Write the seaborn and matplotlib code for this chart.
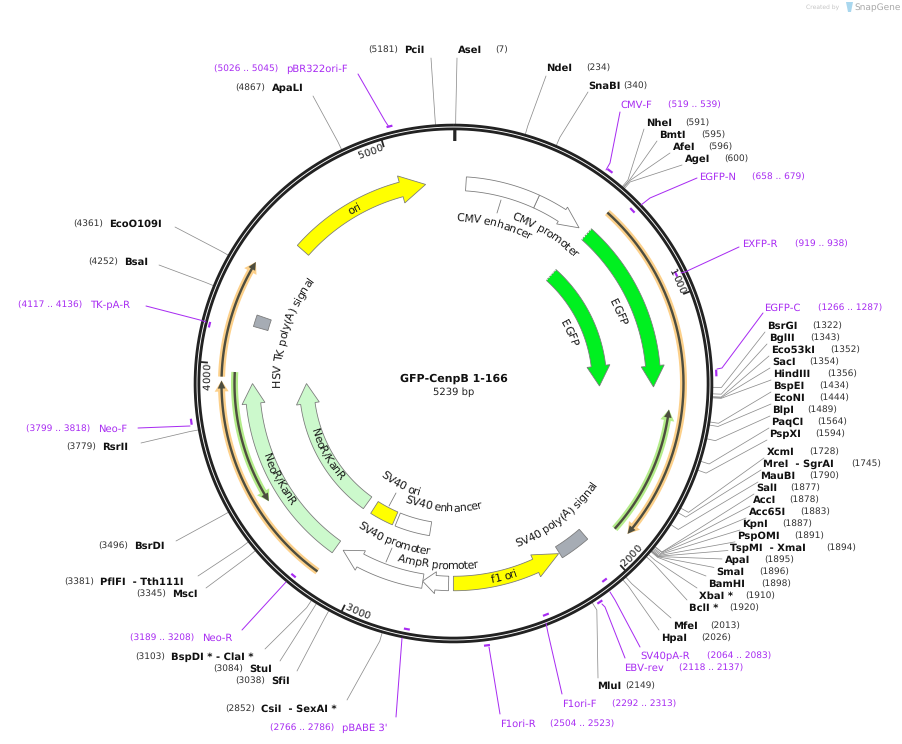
import numpy as np
import pandas as pd
import matplotlib

matplotlib.use("Agg")
import matplotlib.pyplot as plt
import seaborn as sns
from matplotlib.font_manager import FontProperties
from matplotlib.patches import Polygon
from matplotlib.textpath import text_to_path

PLASMID_NAME = "GFP-CenpB 1-166"
PLASMID_BP = 5239
TICK_SITES = [1000, 2000, 3000, 4000, 5000]

ENZYME_NAMES = [
    "AseI", "NdeI", "SnaBI", "NheI", "BmtI", "AfeI", "AgeI", "BsrGI", "BglII", "Eco53kI",
    "SacI", "HindIII", "BspEI", "EcoNI", "BlpI", "PaqCI", "PspXI", "XcmI", "MreI  - SgrAI",
    "MauBI", "SalI", "AccI", "Acc65I", "KpnI", "PspOMI", "TspMI  - XmaI", "ApaI", "SmaI",
    "BamHI", "XbaI *", "BclI *", "MfeI", "HpaI", "MluI", "PciI", "ApaLI", "EcoO109I", "BsaI",
    "RsrII", "BsrDI", "PflFI  - Tth111I", "MscI", "BspDI * - ClaI *", "StuI", "SfiI",
    "CsiI  - SexAI *",
]
ENZYME_SITES = [
    7, 234, 340, 591, 595, 596, 600, 1322, 1343, 1352,
    1354, 1356, 1434, 1444, 1489, 1564, 1594, 1728, 1745,
    1790, 1877, 1878, 1883, 1887, 1891, 1894, 1895, 1896,
    1898, 1910, 1920, 2013, 2026, 2149, 5181, 4867, 4361, 4252,
    3779, 3496, 3381, 3345, 3103, 3084, 3038,
    2852,
]

PRIMER_NAMES = ["pBR322ori-F", "CMV-F", "EGFP-N", "EXFP-R", "EGFP-C", "SV40pA-R", "EBV-rev",
                "F1ori-F", "F1ori-R", "pBABE 3'", "Neo-R", "Neo-F", "TK-pA-R"]
PRIMER_STARTS = [5026, 519, 658, 919, 1266, 2064, 2118, 2292, 2504, 2766, 3189, 3799, 4117]
PRIMER_ENDS = [5045, 539, 679, 938, 1287, 2083, 2137, 2313, 2523, 2786, 3208, 3818, 4136]

# name, start, end (direction follows start -> end)
ARROW_NAMES = ["ori", "CMV promoter", "EGFP", "EGFP", "f1 ori", "AmpR promoter", "SV40 promoter",
               "NeoR/KanR", "NeoR/KanR"]
ARROW_STARTS = [4533, 357, 607, 611, 2620, 2640, 2748, 3138, 3140]
ARROW_ENDS = [5123, 566, 1324, 1324, 2158, 2749, 3107, 3929, 3929]
BOX_NAMES = ["CMV enhancer", "SV40 poly(A) signal", "HSV TK poly(A) signal", "SV40 ori", "SV40 enhancer"]
BOX_STARTS = [52, 2026, 4161, 2960, 2750]
BOX_ENDS = [357, 2154, 4209, 3093, 2944]
THIN_STARTS = [611, 1921, 3954, 3142, 3973]
THIN_ENDS = [1904, 1410, 4389, 3940, 3456]

# layout, all in image pixels
CX, CY, RING_R = 453.5, 383.5, 256.5
ELBOW_R = 268
PX = 0.72
GREY = "#8c8c8c"
PURPLE = "#a82cf2"
SITE_GREY = "#333333"

ENZYME_X = [458, 547, 589, 647, 660, 673, 685, 768, 770, 772,
            773, 774, 774, 774, 773, 772, 770, 767, 764,
            761, 757, 753, 749, 743, 738, 731, 725, 717,
            709, 700, 690, 674, 662, 598, 405, 272, 110, 125,
            103, 135, 101, 173, 172, 250, 272,
            262]
ENZYME_Y = [50, 68, 86, 123, 135, 147, 159, 326, 338, 350,
            362, 374, 386, 398, 410, 422, 434, 452, 464,
            476, 488, 500, 512, 524, 536, 548, 560, 572,
            584, 596, 608, 626, 638, 686, 50, 88, 224, 262,
            447, 546, 582, 594, 657, 669, 681,
            709]
SITE_X = [495, 586, 623, 685, 701, 708, 724, 812, 810, 830,
          809, 827, 819, 819, 807, 817, 815, 809, 851,
          809, 790, 789, 800, 782, 794, 826, 764, 759,
          761, 745, 729, 710, 701, 625, 368, 235, 73, 88,
          66, 98, 64, 136, 135, 213, 235,
          225]
# labels whose leader does not end at the left of the name
LEADER_ENDS = {
    "AseI": (457, 58), "NdeI": (546, 76), "SnaBI": (588, 92), "MluI": (598, 678),
    "PciI": (431, 58), "ApaLI": (313, 96), "EcoO109I": (175, 227), "BsaI": (159, 265),
    "RsrII": (141, 443), "BsrDI": (176, 541), "PflFI  - Tth111I": (198, 576), "MscI": (206, 588),
    "BspDI * - ClaI *": (265, 649), "StuI": (280, 661), "SfiI": (297, 671),
    "CsiI  - SexAI *": (347, 700),
}

PRIMER_R = [265, 264, 249, 248, 263, 248, 263, 249, 264, 250, 250, 265, 251]
PRIMER_X = [287, 621, 700, 743, 765, 641, 625, 563, 501, 343, 203, 99, 91]
PRIMER_Y = [69, 105, 177, 244, 308, 656, 668, 704, 724, 728, 638, 429, 305]
PRIMER_SITE_X = [214, 668, 752, 795, 818, 707, 679, 612, 550, 270, 130, 26, 18]
PRIMER_LEADERS = [
    [(358, 74), (385, 121), (389, 127)],
    [(620, 112), (610, 163), (606, 170)],
    [(697, 178), (650, 198), (641, 205)],
    [(739, 247), (685, 272), (681, 273)],
    [(763, 313), (722, 368), (717, 369)],
    [(640, 647), (615, 600), (610, 592)],
    [(625, 658), (605, 607), (602, 604)],
    [(562, 694), (548, 633), (546, 623)],
    [(500, 714), (489, 647)],
    [(396, 717), (402, 638)],
    [(242, 630), (286, 582)],
    [(138, 428), (190, 426)],
    [(146, 306), (200, 320), (206, 322)],
]

# (text, angle in degrees, radius of the text centre, reads clockwise)
CURVED_LABELS = [
    ("ori", 330.5, 201, True), ("CMV enhancer", 14.3, 166, True), ("CMV promoter", 31.5, 178, True),
    ("EGFP", 66.7, 180, True), ("EGFP", 66.3, 127, True), ("HSV TK poly(A) signal", 287.7, 177, True),
    ("NeoR/KanR", 241.2, 200, False), ("NeoR/KanR", 240.8, 146, False), ("SV40 ori", 207.7, 114, False),
    ("SV40 enhancer", 184.9, 124, False), ("SV40 promoter", 201, 169, False),
    ("AmpR promoter", 185, 182, False), ("f1 ori", 165.2, 199, False),
    ("SV40 poly(A) signal", 141.8, 172, False),
]


def to_deg(bp):
    return 360.0 * bp / PLASMID_BP


def polar(deg, r):
    t = np.radians(deg)
    return CX + r * np.sin(t), CY - r * np.cos(t)


def arc_xy(d0, d1, r, n=80):
    return polar(np.linspace(d0, d1, n), r)


def draw_arc(ax, d0, d1, r, color, px_width):
    x, y = arc_xy(d0, d1, r, 240)
    frame = pd.DataFrame({"x": x, "y": y})
    sns.lineplot(data=frame, x="x", y="y", sort=False, estimator=None, color=color,
                 linewidth=px_width * PX, ax=ax, solid_capstyle="butt")


def arrow_poly(d0, d1, r, width, head_len, head_half):
    sign = 1 if d1 > d0 else -1
    back = d1 - sign * np.degrees(head_len / r)
    ox, oy = arc_xy(d0, back, r + width / 2, 50)
    ix, iy = arc_xy(back, d0, r - width / 2, 50)
    pts = list(zip(ox, oy))
    pts.append(polar(back, r + head_half))
    pts.append(polar(d1, r))
    pts.append(polar(back, r - head_half))
    pts += list(zip(ix, iy))
    return pts


def box_poly(d0, d1, r, width):
    ox, oy = arc_xy(d0, d1, r + width / 2, 30)
    ix, iy = arc_xy(d1, d0, r - width / 2, 30)
    return list(zip(ox, oy)) + list(zip(ix, iy))


def curved_text(ax, text, deg, rc, clockwise, size=10.6, color="#1a1a1a"):
    prop = FontProperties(family="DejaVu Sans", size=size)
    base = text_to_path.get_text_width_height_descent("xx", prop, False)[0]
    adv = [text_to_path.get_text_width_height_descent("x" + c + "x", prop, False)[0] - base for c in text]
    total = sum(adv)
    r_base = rc - size * 0.36 if clockwise else rc + size * 0.36
    pos = -total / 2
    for ch, w in zip(text, adv):
        offset = np.degrees((pos + w / 2) / r_base)
        d = deg + offset if clockwise else deg - offset
        x, y = polar(d, r_base)
        rot = -d if clockwise else 180 - d
        ax.text(x, y, ch, fontsize=size * PX, color=color, rotation=rot, rotation_mode="anchor",
                ha="center", va="baseline")
        pos += w


def main():
    sns.set_theme(style="white")
    plt.rcParams["font.family"] = ["DejaVu Sans"]
    plt.rcParams["text.hinting"] = "no_hinting"
    plt.rcParams["text.hinting_factor"] = 1
    fig = plt.figure(figsize=(9.03, 7.44), dpi=100)
    ax = fig.add_axes([0, 0, 1, 1])

    # backbone
    draw_arc(ax, 0, 360, RING_R, "#222222", 6.6)
    draw_arc(ax, 0, 360, RING_R, "white", 0.9)
    tx, ty = zip(polar(0.3, RING_R - 3), polar(0.3, RING_R - 14))
    ax.plot(tx, ty, color="#262626", lw=3.2 * PX, solid_capstyle="butt")
    for site in TICK_SITES:
        d = to_deg(site)
        tx, ty = zip(polar(d, RING_R - 2), polar(d, RING_R - 10))
        ax.plot(tx, ty, color="#262626", lw=1.8 * PX, solid_capstyle="butt")
        clockwise = site in (1000, 4000, 5000)
        curved_text(ax, str(site), d - 3.3, 247, clockwise, size=10.2)

    # restriction sites
    for name, site, x, y, sx in zip(ENZYME_NAMES, ENZYME_SITES, ENZYME_X, ENZYME_Y, SITE_X):
        d = to_deg(site)
        rx, ry = polar(d, RING_R + 2)
        ex, ey = polar(d, ELBOW_R)
        if name in LEADER_ENDS:
            lx, ly = LEADER_ENDS[name]
        else:
            lx, ly = x - 3, y + np.clip((ey - y) * 0.3, -8, 6)
        ax.plot([rx, ex, lx], [ry, ey, ly], color=GREY, lw=0.75 * PX, zorder=1)
        ax.text(x - 0.5, y, name, fontsize=7.55, fontweight="bold", color="#111111", ha="left", va="center")
        ax.text(sx, y + 0.5, f"({site})", fontsize=6.8, color=SITE_GREY, ha="left", va="center")

    # primers
    for i, name in enumerate(PRIMER_NAMES):
        d0, d1 = to_deg(PRIMER_STARTS[i]), to_deg(PRIMER_ENDS[i])
        draw_arc(ax, d0, d1, PRIMER_R[i], PURPLE, 2.2)
        lx, ly = zip(*PRIMER_LEADERS[i])
        ax.plot(lx, ly, color=PURPLE, lw=1.0 * PX, zorder=2)
        ax.text(PRIMER_X[i] - 0.5, PRIMER_Y[i], name, fontsize=7.5, color=PURPLE, ha="left", va="center")
        ax.text(PRIMER_SITE_X[i], PRIMER_Y[i] + 0.5, f"({PRIMER_STARTS[i]} .. {PRIMER_ENDS[i]})",
                fontsize=6.8, color=PURPLE, ha="left", va="center")

    # thin misc arrows, halo below and dark core on top
    halos = ["#fcd08a", "#b4ec8a", "#fcd08a", "#fcd08a", "#b4ec8a"]
    radii = [230, 217, 232, 232, 219]
    for start, end, halo, r in zip(THIN_STARTS, THIN_ENDS, halos, radii):
        d0, d1 = to_deg(start), to_deg(end)
        ax.add_patch(Polygon(arrow_poly(d0, d1, r, 7, 11, 7), closed=True, fc=halo, ec="none", zorder=3))
        ax.add_patch(Polygon(arrow_poly(d0, d1, r, 2.4, 8, 3.8), closed=True, fc="#4d4d3f", ec="none", zorder=4))

    # features
    arrow_colors = ["#ffff00", "white", "#00f020", "#00f020", "#ffff00", "white", "white", "#ccf9cc", "#ccf9cc"]
    arrow_r = [201, 200, 200, 146, 200, 200, 200, 201, 147]
    arrow_w = [15, 14, 14.5, 14.5, 14.5, 14.5, 14.5, 14.5, 14.5]
    arrow_head = [25, 21, 21, 20, 26, 13, 20, 20, 20]
    arrow_half = [14, 10, 11.5, 11.5, 12, 11, 11, 11.5, 11.5]
    for i in range(len(ARROW_NAMES)):
        pts = arrow_poly(to_deg(ARROW_STARTS[i]), to_deg(ARROW_ENDS[i]), arrow_r[i], arrow_w[i],
                         arrow_head[i], arrow_half[i])
        ax.add_patch(Polygon(pts, closed=True, fc=arrow_colors[i], ec="#7a7a7a", lw=0.8 * PX, zorder=5))

    box_colors = ["white", "#a6acb4", "#a6acb4", "#ffff00", "white"]
    box_r = [200, 199, 200.5, 147, 147]
    box_w = [14, 13, 15, 14, 14]
    for i in range(len(BOX_NAMES)):
        pts = box_poly(to_deg(BOX_STARTS[i]), to_deg(BOX_ENDS[i]), box_r[i], box_w[i])
        ax.add_patch(Polygon(pts, closed=True, fc=box_colors[i], ec="#7a7a7a", lw=0.8 * PX, zorder=5))

    # dotted starts of the EGFP arrows
    for start, r in zip([607, 611], [200, 146]):
        tx, ty = zip(polar(to_deg(start), r - 7), polar(to_deg(start), r + 7))
        ax.plot(tx, ty, color="white", lw=1.0 * PX, ls=(0, (1.5, 1.5)), zorder=6)

    # short stems between features and their labels
    for p0, p1 in [((501, 200), (497, 213)), ((396, 493), (389, 506)), ((392, 548), (386, 562))]:
        ax.plot([p0[0], p1[0]], [p0[1], p1[1]], color="#7a7a7a", lw=0.8 * PX, zorder=4)

    for text, deg, rc, clockwise in CURVED_LABELS:
        curved_text(ax, text, deg, rc, clockwise)

    for t in ax.texts:
        t.set_zorder(7)

    ax.text(CX + 0.5, 379, PLASMID_NAME, fontsize=7.7, fontweight="bold", color="#111111", ha="center", va="center")
    ax.text(CX, 392, f"{PLASMID_BP} bp", fontsize=7.2, color="#222222", ha="center", va="center")

    # watermark
    ax.text(806, 7.5, "Created by", fontsize=4.6, color="#c4c4c4", ha="left", va="center")
    ax.add_patch(Polygon([(846, 2), (853, 2), (851, 12), (848, 12)], closed=True, fc="#a9d7ee", ec="none"))
    ax.text(854, 7.5, "SnapGene", fontsize=6.6, color="#a8a8a8", ha="left", va="center")

    ax.set_xlim(0, 903)
    ax.set_ylim(744, 0)
    ax.set_xlabel("")
    ax.set_ylabel("")
    ax.axis("off")
    fig.savefig("out.png", dpi=100, facecolor="white")
    plt.close(fig)


if __name__ == "__main__":
    main()
